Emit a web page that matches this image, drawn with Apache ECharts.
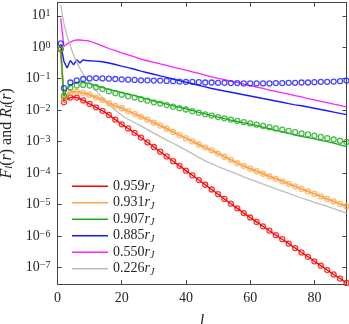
<!DOCTYPE html>
<html>
<head>
<meta charset="utf-8">
<script src="https://cdn.jsdelivr.net/npm/echarts@6/dist/echarts.min.js"></script>
<style>
  html, body { margin: 0; padding: 0; background: #fff; }
  #chart { width: 349px; height: 324px; }
</style>
</head>
<body>
<div id="chart"></div>
<script>
// l values where the curves are sampled
const lineL = [1, 2, 3, 4, 5, 6, 7, 8, 9, 10,
  12, 14, 16, 18, 20, 22, 24, 26, 28, 30,
  32, 34, 36, 38, 40, 42, 44, 46, 48, 50,
  52, 54, 56, 58, 60, 62, 64, 66, 68, 70,
  72, 74, 76, 78, 80, 82, 84, 86, 88, 90];
// l values of the circle markers
const dotL = [1, 2, 4, 6, 8, 10,
  12, 14, 16, 18, 20, 22, 24, 26, 28, 30,
  32, 34, 36, 38, 40, 42, 44, 46, 48, 50,
  52, 54, 56, 58, 60, 62, 64, 66, 68, 70,
  72, 74, 76, 78, 80, 82, 84, 86, 88, 90];

const names = ['0.959', '0.931', '0.907', '0.885', '0.550', '0.226'];

const red = [0.89, 1.78e-2, 2.24e-2, 2.51e-2, 2.63e-2, 2.51e-2, 2.29e-2, 2.04e-2, 1.82e-2, 1.58e-2,
  1.23e-2, 9.55e-3, 7.08e-3, 5.01e-3, 3.55e-3, 2.63e-3, 1.91e-3, 1.35e-3, 9.55e-4, 6.76e-4,
  4.79e-4, 3.39e-4, 2.40e-4, 1.70e-4, 1.20e-4, 8.51e-5, 6.03e-5, 4.27e-5, 3.02e-5, 2.14e-5,
  1.51e-5, 1.07e-5, 7.59e-6, 5.37e-6, 3.89e-6, 2.82e-6, 2.04e-6, 1.48e-6, 1.07e-6, 7.94e-7,
  5.75e-7, 4.17e-7, 3.02e-7, 2.19e-7, 1.58e-7, 1.15e-7, 8.32e-8, 6.03e-8, 4.47e-8, 3.24e-8];
const redDots = [0.85, 1.78e-2, 2.51e-2, 2.51e-2, 2.04e-2, 1.58e-2,
  1.23e-2, 9.55e-3, 7.08e-3, 5.01e-3, 3.55e-3, 2.63e-3, 1.91e-3, 1.35e-3, 9.55e-4, 6.76e-4,
  4.79e-4, 3.39e-4, 2.40e-4, 1.70e-4, 1.20e-4, 8.51e-5, 6.03e-5, 4.27e-5, 3.02e-5, 2.14e-5,
  1.51e-5, 1.07e-5, 7.59e-6, 5.37e-6, 3.89e-6, 2.82e-6, 2.04e-6, 1.48e-6, 1.07e-6, 7.94e-7,
  5.75e-7, 4.17e-7, 3.02e-7, 2.19e-7, 1.58e-7, 1.15e-7, 8.32e-8, 6.03e-8, 4.47e-8, 3.24e-8];

const orange = [0.85, 2.24e-2, 3.16e-2, 3.63e-2, 3.89e-2, 3.89e-2, 3.72e-2, 3.55e-2, 3.31e-2, 3.09e-2,
  2.57e-2, 2.09e-2, 1.66e-2, 1.38e-2, 1.15e-2, 9.33e-3, 7.59e-3, 6.17e-3, 5.01e-3, 3.98e-3,
  3.24e-3, 2.57e-3, 2.04e-3, 1.62e-3, 1.29e-3, 1.02e-3, 8.13e-4, 6.46e-4, 5.25e-4, 4.17e-4,
  3.31e-4, 2.63e-4, 2.09e-4, 1.70e-4, 1.38e-4, 1.15e-4, 9.55e-5, 7.94e-5, 6.61e-5, 5.50e-5,
  4.57e-5, 3.80e-5, 3.16e-5, 2.63e-5, 2.19e-5, 1.82e-5, 1.51e-5, 1.26e-5, 1.05e-5, 8.71e-6];
const orangeDots = [0.87, 2.24e-2, 3.63e-2, 3.89e-2, 3.55e-2, 3.09e-2,
  2.57e-2, 2.09e-2, 1.66e-2, 1.38e-2, 1.15e-2, 9.33e-3, 7.59e-3, 6.17e-3, 5.01e-3, 3.98e-3,
  3.24e-3, 2.57e-3, 2.04e-3, 1.62e-3, 1.29e-3, 1.02e-3, 8.13e-4, 6.46e-4, 5.25e-4, 4.17e-4,
  3.31e-4, 2.63e-4, 2.09e-4, 1.70e-4, 1.38e-4, 1.15e-4, 9.55e-5, 7.94e-5, 6.61e-5, 5.50e-5,
  4.57e-5, 3.80e-5, 3.16e-5, 2.63e-5, 2.19e-5, 1.82e-5, 1.51e-5, 1.26e-5, 1.05e-5, 8.71e-6];

const green = [0.85, 2.82e-2, 4.79e-2, 6.03e-2, 7.08e-2, 7.59e-2, 7.76e-2, 7.76e-2, 7.41e-2, 6.92e-2,
  6.03e-2, 5.25e-2, 4.57e-2, 4.07e-2, 3.63e-2, 3.24e-2, 2.88e-2, 2.57e-2, 2.24e-2, 1.95e-2,
  1.74e-2, 1.55e-2, 1.38e-2, 1.23e-2, 1.10e-2, 9.77e-3, 8.51e-3, 7.59e-3, 6.76e-3, 6.03e-3,
  5.37e-3, 4.79e-3, 4.37e-3, 3.98e-3, 3.63e-3, 3.24e-3, 2.88e-3, 2.57e-3, 2.29e-3, 2.04e-3,
  1.82e-3, 1.62e-3, 1.48e-3, 1.35e-3, 1.23e-3, 1.10e-3, 1.00e-3, 8.91e-4, 7.94e-4, 6.92e-4];
const greenDots = [0.89, 2.82e-2, 5.25e-2, 6.03e-2, 6.31e-2, 6.03e-2,
  5.37e-2, 4.68e-2, 3.98e-2, 3.47e-2, 3.09e-2, 2.75e-2, 2.51e-2, 2.24e-2, 2.00e-2, 1.78e-2,
  1.62e-2, 1.45e-2, 1.29e-2, 1.15e-2, 1.05e-2, 9.33e-3, 8.32e-3, 7.41e-3, 6.76e-3, 6.03e-3,
  5.50e-3, 5.01e-3, 4.57e-3, 4.17e-3, 3.80e-3, 3.47e-3, 3.16e-3, 2.88e-3, 2.63e-3, 2.40e-3,
  2.19e-3, 2.00e-3, 1.82e-3, 1.70e-3, 1.55e-3, 1.41e-3, 1.29e-3, 1.17e-3, 1.07e-3, 9.77e-4];

const blue = [1.26, 0.355, 0.219, 0.380, 0.275, 0.398, 0.316, 0.398, 0.380, 0.372,
  0.363, 0.347, 0.316, 0.282, 0.251, 0.224, 0.200, 0.174, 0.155, 0.138,
  0.123, 0.110, 9.77e-2, 8.71e-2, 7.76e-2, 6.92e-2, 6.17e-2, 5.50e-2, 4.90e-2, 4.47e-2,
  4.07e-2, 3.72e-2, 3.39e-2, 3.09e-2, 2.82e-2, 2.57e-2, 2.34e-2, 2.14e-2, 1.95e-2, 1.78e-2,
  1.62e-2, 1.48e-2, 1.38e-2, 1.26e-2, 1.15e-2, 1.05e-2, 9.55e-3, 8.71e-3, 7.94e-3, 7.24e-3];
const blueDots = [1.32, 5.01e-2, 7.59e-2, 8.91e-2, 9.77e-2, 0.102,
  0.105, 0.102, 0.100, 9.77e-2, 9.55e-2, 9.33e-2, 9.12e-2, 8.91e-2, 8.91e-2, 8.71e-2,
  8.71e-2, 8.51e-2, 8.32e-2, 8.13e-2, 7.94e-2, 7.94e-2, 7.76e-2, 7.59e-2, 7.59e-2, 7.41e-2,
  7.41e-2, 7.24e-2, 7.24e-2, 7.08e-2, 7.08e-2, 7.08e-2, 7.08e-2, 7.08e-2, 7.24e-2, 7.24e-2,
  7.41e-2, 7.41e-2, 7.59e-2, 7.59e-2, 7.76e-2, 7.94e-2, 7.94e-2, 8.13e-2, 8.32e-2, 8.71e-2];

const magenta = [8.32, 1.07, 1.26, 1.45, 1.62, 1.70, 1.70, 1.66, 1.62, 1.55,
  1.32, 1.10, 0.912, 0.776, 0.661, 0.575, 0.490, 0.417, 0.372, 0.331,
  0.295, 0.263, 0.234, 0.209, 0.186, 0.166, 0.148, 0.129, 0.115, 0.102,
  9.33e-2, 8.32e-2, 7.59e-2, 6.76e-2, 6.03e-2, 5.37e-2, 4.90e-2, 4.37e-2, 3.98e-2, 3.55e-2,
  3.24e-2, 2.88e-2, 2.63e-2, 2.34e-2, 2.14e-2, 1.91e-2, 1.74e-2, 1.55e-2, 1.41e-2, 1.26e-2];

const grey = [21.9, 5.62, 2.24, 1.12, 0.562, 0.331, 0.209, 0.141, 0.100, 7.41e-2,
  4.17e-2, 2.45e-2, 1.51e-2, 1.00e-2, 6.92e-3, 5.13e-3, 3.98e-3, 3.16e-3, 2.40e-3, 1.86e-3,
  1.45e-3, 1.12e-3, 8.91e-4, 6.92e-4, 5.37e-4, 4.17e-4, 3.16e-4, 2.45e-4, 2.00e-4, 1.62e-4,
  1.35e-4, 1.12e-4, 9.33e-5, 7.59e-5, 6.31e-5, 5.37e-5, 4.47e-5, 3.80e-5, 3.16e-5, 2.69e-5,
  2.29e-5, 1.91e-5, 1.62e-5, 1.38e-5, 1.17e-5, 1.02e-5, 8.71e-6, 7.41e-6, 6.31e-6, 5.37e-6];

const lines = [red, orange, green, blue, magenta, grey];
const dots = [redDots, orangeDots, greenDots, blueDots, null, null];
const colors = ['#ff0000', '#ffa64d', '#1aad1a', '#1a1aff', '#ff22ff', '#bdbdbd'];
const widths = [1.3, 2, 1.3, 1.4, 1.3, 1.3];

const axisColor = '#444';
const textColor = '#262626';
const serif = '"Liberation Serif", "DejaVu Serif", serif';

const pair = (xs, ys) => xs.map((x, i) => [x, ys[i]]);

const series = [];
lines.forEach((ys, k) => {
  series.push({
    name: names[k],
    type: 'line',
    data: pair(lineL, ys),
    showSymbol: false,
    symbol: 'none',
    lineStyle: { color: colors[k], width: widths[k] },
    itemStyle: { color: colors[k] },
    z: 2,
  });
});
dots.forEach((ys, k) => {
  if (!ys) return;
  series.push({
    name: names[k] + ' fit',
    type: 'scatter',
    data: pair(dotL, ys),
    symbol: 'circle',
    symbolSize: 5,
    itemStyle: { color: 'rgba(0,0,0,0)', borderColor: colors[k], borderWidth: 1.3 },
    z: 3,
  });
});

// 10^n labels, blank for the extra ticks at min / max
const expLabel = (v) => {
  const lg = Math.log10(v);
  const e = Math.round(lg);
  if (Math.abs(lg - e) > 1e-6) return '';
  return '{b|10}{s|' + (e < 0 ? '\u2212' + (-e) : e) + '}';
};

const chart = echarts.init(document.getElementById('chart'), null, { renderer: 'canvas' });
chart.setOption({
  animation: false,
  backgroundColor: '#fff',
  grid: { left: 57.5, right: 2.5, top: 2.7, bottom: 40, containLabel: false, outerBoundsMode: 'none' },
  legend: {
    data: names,
    orient: 'vertical',
    left: 67,
    top: 173,
    icon: 'rect',
    itemWidth: 36,
    itemHeight: 1.6,
    itemGap: 0,
    itemTextGap: 4,
    textStyle: {
      color: textColor,
      fontFamily: serif,
      fontSize: 14,
      lineHeight: 16.5,
      rich: {
        n: { fontFamily: serif, fontSize: 14, color: textColor },
        r: { fontFamily: serif, fontSize: 14, fontStyle: 'italic', color: textColor },
        s: { fontFamily: serif, fontSize: 10, fontStyle: 'italic', color: textColor, verticalAlign: 'bottom', lineHeight: 12 },
      },
    },
    formatter: (name) => '{n|' + name + '}{r|r}{s|J}',
  },
  xAxis: [
    {
      type: 'value', min: 0, max: 90, interval: 20, position: 'bottom',
      axisLine: { show: true, onZero: false, lineStyle: { color: axisColor, width: 1 } },
      axisTick: { show: true, inside: true, length: 4, lineStyle: { color: axisColor } },
      axisLabel: { color: textColor, fontFamily: serif, fontSize: 14, margin: 7, showMaxLabel: false },
      splitLine: { show: false },
      name: 'l', nameLocation: 'middle', nameGap: 30,
      nameTextStyle: { color: textColor, fontFamily: serif, fontSize: 16, fontStyle: 'italic' },
    },
    {
      type: 'value', min: 0, max: 90, interval: 20, position: 'top',
      axisLine: { show: true, onZero: false, lineStyle: { color: axisColor, width: 1 } },
      axisTick: { show: true, inside: true, length: 4, lineStyle: { color: axisColor } },
      axisLabel: { show: false },
      splitLine: { show: false },
    },
  ],
  yAxis: [
    {
      type: 'log', logBase: 10, min: 3e-8, max: 26, splitNumber: 9, position: 'left',
      axisLine: { show: true, onZero: false, lineStyle: { color: axisColor, width: 1 } },
      axisTick: { show: true, inside: true, length: 4, lineStyle: { color: axisColor } },
      minorTick: { show: false },
      splitLine: { show: false },
      axisLabel: {
        margin: 7,
        formatter: expLabel,
        rich: {
          b: { fontFamily: serif, fontSize: 14, color: textColor, verticalAlign: 'middle', lineHeight: 14, padding: [2.5, 0, 2.5, 0] },
          s: { fontFamily: serif, fontSize: 10, color: textColor, verticalAlign: 'top', lineHeight: 10 },
        },
      },
      name: '{i|F}{u|l}{n|(}{i|r}{n|) and }{i|R}{u|l}{n|(}{i|r}{n|)}',
      nameLocation: 'middle', nameGap: 43, nameRotate: 90,
      nameTextStyle: {
        color: textColor, fontFamily: serif, fontSize: 16,
        padding: [0, 0, 0, 20],
        rich: {
          n: { fontFamily: serif, fontSize: 16, color: textColor },
          i: { fontFamily: serif, fontSize: 16, fontStyle: 'italic', color: textColor },
          u: { fontFamily: serif, fontSize: 11, fontStyle: 'italic', color: textColor, verticalAlign: 'bottom', lineHeight: 14 },
        },
      },
    },
    {
      type: 'log', logBase: 10, min: 3e-8, max: 26, splitNumber: 9, position: 'right',
      axisLine: { show: true, onZero: false, lineStyle: { color: axisColor, width: 1 } },
      axisTick: { show: true, inside: true, length: 4, lineStyle: { color: axisColor } },
      axisLabel: { show: false },
      splitLine: { show: false },
    },
  ],
  series: series,
});
</script>
</body>
</html>
